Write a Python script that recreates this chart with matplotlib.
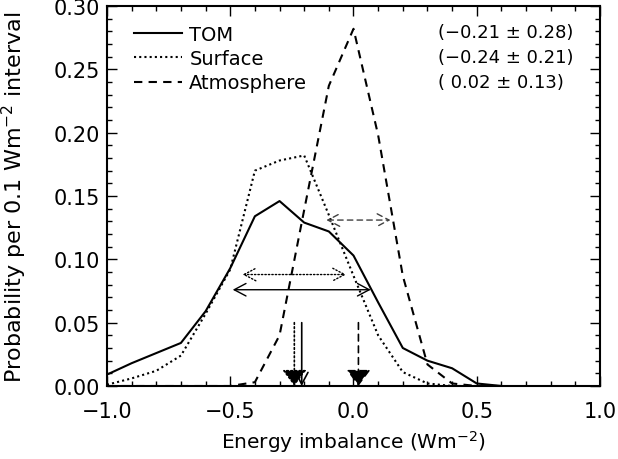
import numpy as np
import matplotlib
matplotlib.use('Agg')
from matplotlib import pyplot as plt
from matplotlib.ticker import MultipleLocator

# bins de 0.1 Wm-2
energia = [-1.0, -0.9, -0.8, -0.7, -0.6, -0.5, -0.4, -0.3, -0.2, -0.1,
           0.0, 0.1, 0.2, 0.3, 0.4, 0.5, 0.6]
tom = [0.009, 0.018, 0.026, 0.034, 0.059, 0.093, 0.134, 0.146, 0.129, 0.122,
       0.103, 0.066, 0.030, 0.020, 0.014, 0.002, 0.0]
superficie = [0.001, 0.006, 0.012, 0.024, 0.057, 0.092, 0.170, 0.178, 0.182, 0.135,
              0.087, 0.040, 0.011, 0.002, 0.0, 0.0, 0.0]
atmosfera = [0.0, 0.0, 0.0, 0.0, 0.0, 0.0, 0.003, 0.040, 0.139, 0.237,
             0.282, 0.198, 0.087, 0.017, 0.002, 0.0, 0.0]

nombres = ['TOM', 'Surface', 'Atmosphere']
medias = [-0.21, -0.24, 0.02]
desvios = [0.28, 0.21, 0.13]
estilos = ['-', (0, (1, 1.5)), (0, (4, 3))]
y_flechas = [0.076, 0.088, 0.131]  # altura de las flechas horizontales
y_vert = 0.05                      # inicio de las flechas verticales

plt.rcParams['font.family'] = 'DejaVu Sans'
plt.rcParams['font.size'] = 14

fig = plt.figure(figsize=(6.18, 4.60), dpi=100)
ax = fig.add_axes([0.1731, 0.1587, 0.7978, 0.8261])

series = [tom, superficie, atmosfera]
for datos, nombre, ls in zip(series, nombres, estilos):
    ax.plot(energia, datos, color='k', lw=1.5, linestyle=ls, label=nombre)

# flechas media +- desvio
for i, (m, s, yf, ls) in enumerate(zip(medias, desvios, y_flechas, estilos)):
    ax.annotate('', xy=(m + s, yf), xytext=(m - s, yf),
                arrowprops=dict(arrowstyle='<->,head_length=0.85,head_width=0.45',
                                lw=1.0, linestyle=ls, color='0.25' if i == 2 else 'k',
                                shrinkA=0, shrinkB=0, mutation_scale=10))

# flechas verticales en la media
for i, (m, ls) in enumerate(zip(medias, estilos)):
    if i == 0:
        estilo = '->,head_length=0.85,head_width=0.45'
    else:
        estilo = '-|>,head_length=1.0,head_width=0.75'
    ax.annotate('', xy=(m, 0.0), xytext=(m, y_vert),
                arrowprops=dict(arrowstyle=estilo, lw=1.2, linestyle=ls, color='k',
                                facecolor='k', shrinkA=0, shrinkB=0, mutation_scale=10))

# textos con media y desvio
filas = [0.932, 0.866, 0.800]
for m, s, yy in zip(medias, desvios, filas):
    txt = '({:5.2f} ± {:.2f})'.format(m, s).replace('-', '\u2212')
    ax.text(0.671, yy, txt, transform=ax.transAxes, va='center', ha='left', fontsize=13)

leg = ax.legend(loc='upper left', bbox_to_anchor=(0.027, 0.986), frameon=False,
                handlelength=2.45, handletextpad=0.4, labelspacing=0.27,
                borderaxespad=0.3, fontsize=14)

ax.set_xlim(-1.0, 1.0)
ax.set_ylim(0.0, 0.30)
ax.xaxis.set_major_locator(MultipleLocator(0.5))
ax.xaxis.set_minor_locator(MultipleLocator(0.1))
ax.yaxis.set_major_locator(MultipleLocator(0.05))
ax.yaxis.set_minor_locator(MultipleLocator(0.01))
ax.xaxis.set_major_formatter(plt.FuncFormatter(lambda v, p: '{:.1f}'.format(v).replace('-', '\u2212')))
ax.yaxis.set_major_formatter(plt.FuncFormatter(lambda v, p: '{:.2f}'.format(v)))
ax.tick_params(which='both', direction='in', top=True, right=True, width=1.0, labelsize=15)
ax.tick_params(which='major', length=7)
ax.tick_params(which='minor', length=3.5)
ax.tick_params(axis='x', pad=11)
ax.tick_params(axis='y', pad=5)
for sp in ax.spines.values():
    sp.set_linewidth(1.5)

ax.set_xlabel('Energy imbalance (Wm$^{-2}$)', labelpad=5, fontsize=14.5)
ax.set_ylabel('Probability per 0.1 Wm$^{-2}$ interval', fontsize=16)
ax.yaxis.set_label_coords(-0.158, 0.5)

fig.savefig('out.png', dpi=100)
